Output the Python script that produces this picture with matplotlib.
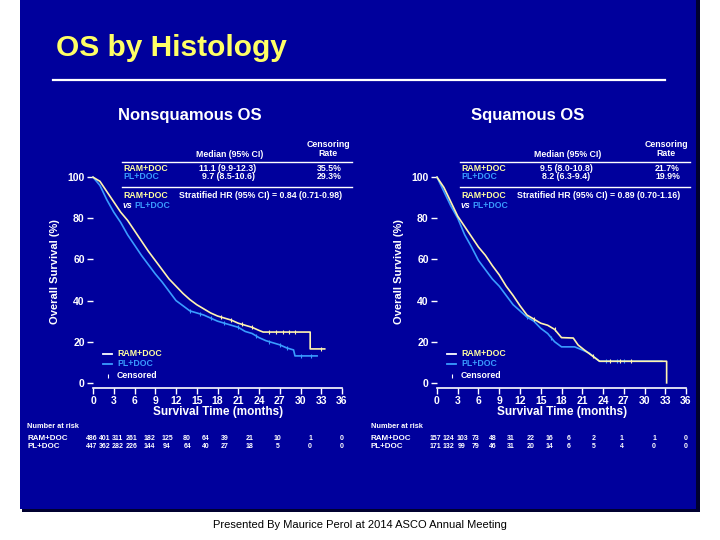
from matplotlib import pyplot as plt
from matplotlib.patches import Rectangle
from matplotlib.lines import Line2D
from matplotlib import transforms
import numpy as np

plt.rcParams['font.family'] = ['Liberation Sans', 'DejaVu Sans']

W, H = 720, 540
SLIDE = '#00009c'
YELLOW = '#ffff66'
PALE = '#ffffa0'
CREAM = '#fff4b0'
BLUE = '#3a9cff'

# ---- data ----
months = [0, 3, 6, 9, 12, 15, 18, 21, 24, 27, 30, 33, 36]

# Nonsquamous
ns_ram_t = [0, 1, 2, 3, 4, 5, 6, 7, 8, 9, 10, 11, 12, 13, 14, 15, 16, 17, 18,
            19, 20, 21, 22, 23, 24, 24.6, 31.4, 31.4, 33.5]
ns_ram_s = [100, 98, 93, 88, 83, 79, 74, 69, 64, 59.5, 55, 50.5, 47, 43.5, 40.5,
            38, 36, 34, 32.5, 31.5, 30.5, 29, 28, 27, 25.5, 24.7, 24.7, 16.5, 16.5]
ns_pl_t = [0, 1, 2, 3, 4, 5, 6, 7, 8, 9, 10, 11, 12, 13, 14, 15, 16, 17, 18,
           19, 20, 21, 22, 23, 24, 25, 26, 27, 28, 29, 29.2, 32.4]
ns_pl_s = [100, 96, 89, 83, 78, 72, 67, 62, 57.5, 53, 49, 44.5, 40, 37.5, 35,
           34, 33, 31.5, 30, 29, 28, 27, 25, 24, 22, 20.5, 19.5, 18.5, 17, 16,
           13.1, 13.1]
ns_ram_cens = [18.5, 20, 21.5, 23, 25.5, 26.5, 27.5, 28.3, 29.2, 33]
ns_pl_cens = [14, 15.5, 17, 19, 21, 23.5, 25.5, 27, 28, 30, 31.5]
ns_risk_ram = [486, 401, 311, 261, 182, 125, 80, 64, 39, 21, 10, 1, 0]
ns_risk_pl = [447, 362, 282, 226, 144, 94, 64, 40, 27, 18, 5, 0, 0]
ns_median = ['11.1 (9.9-12.3)', '9.7 (8.5-10.6)']
ns_cens_rate = ['35.5%', '29.3%']
ns_hr = 'Stratified HR (95% CI) = 0.84 (0.71-0.98)'

# Squamous
sq_ram_t = [0, 1, 2, 3, 4, 5, 6, 7, 8, 9, 10, 11, 12, 13, 14, 15, 16, 17, 18,
            19.7, 20.4, 21.3, 22.5, 23.5, 33.2, 33.2]
sq_ram_s = [100, 95, 88, 81, 76, 71, 66, 62, 57, 52.5, 47, 42.5, 37.5, 33, 31,
            29, 28, 26, 22, 21.8, 18.4, 16, 13, 10.5, 10.5, 0]
sq_pl_t = [0, 1, 2, 3, 4, 5, 6, 7, 8, 9, 10, 11, 12, 13, 14, 15, 16, 17, 18,
           19.9, 21, 22, 23.5, 32.5]
sq_pl_s = [100, 93, 86, 80, 72, 66, 59.5, 55, 50.5, 47, 42.5, 38, 35, 32, 30,
           26.5, 24, 20, 17.5, 17.5, 16, 14.5, 10.5, 10.5]
sq_ram_cens = [14, 17, 22.5, 25, 26.5, 28]
sq_pl_cens = [13, 16.5, 24.5, 26, 27]
sq_risk_ram = [157, 124, 103, 73, 48, 31, 22, 16, 6, 2, 1, 1, 0]
sq_risk_pl = [171, 132, 99, 79, 46, 31, 20, 14, 6, 5, 4, 0, 0]
sq_median = ['9.5 (8.0-10.8)', '8.2 (6.3-9.4)']
sq_cens_rate = ['21.7%', '19.9%']
sq_hr = 'Stratified HR (95% CI) = 0.89 (0.70-1.16)'

# number-at-risk columns sit a little off the ticks on the slide
risk_cols = [-0.2, 1.7, 3.6, 5.6, 8.1, 10.7, 13.6, 16.3, 19.1, 22.6, 26.7, 31.4, 36.0]


def fx(px):
  return px / W


def fy(py):
  return 1 - py / H


fig = plt.figure(figsize=(W / 100, H / 100), dpi=100)
fig.patch.set_facecolor('white')

# slide background with a dark edge on right/bottom
fig.add_artist(Rectangle((fx(22), fy(512)), fx(678), 512 / H, transform=fig.transFigure,
                         facecolor='#000030', edgecolor='none', zorder=0))
fig.add_artist(Rectangle((fx(20), fy(509)), fx(676), 509 / H, transform=fig.transFigure,
                         facecolor=SLIDE, edgecolor='none', zorder=0))

fig.text(fx(56), fy(48), 'OS by Histology', color=YELLOW, fontsize=21.5,
         fontweight='bold', ha='left', va='center')
fig.add_artist(Line2D([fx(53), fx(665)], [fy(80), fy(80)], transform=fig.transFigure,
                      color='white', lw=1.6))
fig.text(fx(360), fy(525), 'Presented By Maurice Perol at 2014 ASCO Annual Meeting',
         color='black', fontsize=8, ha='center', va='center')


def panel(x0, title, title_cx, ram, pl, ram_c, pl_c, risk_ram, risk_pl,
          median, cens_rate, hr, tab_left):
  ax = fig.add_axes([fx(x0), fy(388), 249 / W, (388 - 171) / H])
  ax.set_facecolor('none')
  ax.set_xlim(0, 36)
  ax.set_ylim(-2.5, 103)

  for t, s, c, cens in ((pl[0], pl[1], BLUE, pl_c), (ram[0], ram[1], CREAM, ram_c)):
    ax.plot(t, s, color=c, lw=1.2, clip_on=False)
    cy = np.interp(cens, t, s)
    ax.plot(cens, cy, ls='none', marker='|', ms=3.5, mew=0.8, color=c, clip_on=False)

  for side in ('top', 'right', 'left'):
    ax.spines[side].set_visible(False)
  ax.spines['bottom'].set_color('white')
  ax.spines['bottom'].set_linewidth(1.2)
  ax.set_xticks(months)
  ax.set_yticks([0, 20, 40, 60, 80, 100])
  ax.tick_params(colors='white', labelsize=7.5, length=4, width=1, pad=2)
  for lab in ax.get_xticklabels() + ax.get_yticklabels():
    lab.set_fontweight('bold')

  fig.text(fx(title_cx), fy(115), title, color='white', fontsize=12,
           fontweight='bold', ha='center', va='center')
  fig.text(fx(x0 - 38), fy(272), 'Overall Survival (%)', color='white', fontsize=8,
           fontweight='bold', rotation=90, ha='center', va='center')
  fig.text(fx(x0 + 125), fy(412), 'Survival Time (months)', color='white',
           fontsize=8.5, fontweight='bold', ha='center', va='center')

  # info table
  tl = tab_left
  fig.text(fx(tl + 108), fy(155), 'Median (95% CI)', color='white', fontsize=6.3,
           fontweight='bold', ha='center', va='center')
  fig.text(fx(tl + 206), fy(149), 'Censoring\nRate', color='white', fontsize=6.3,
           fontweight='bold', ha='center', va='center', linespacing=0.9)
  for ly in (162, 187):
    fig.add_artist(Line2D([fx(tl), fx(tl + 230)], [fy(ly), fy(ly)],
                          transform=fig.transFigure, color='white', lw=1))
  for row, (name, col) in enumerate((('RAM+DOC', PALE), ('PL+DOC', BLUE))):
    yy = fy(169 + 7.5 * row)
    fig.text(fx(tl + 1), yy, name, color=col, fontsize=6.3, fontweight='bold',
             ha='left', va='center')
    fig.text(fx(tl + 106), yy, median[row], color='white', fontsize=6.3,
             fontweight='bold', ha='center', va='center')
    fig.text(fx(tl + 220), yy, cens_rate[row], color='white', fontsize=6.3,
             fontweight='bold', ha='right', va='center')
  fig.text(fx(tl + 1), fy(195), 'RAM+DOC', color=PALE, fontsize=6.3,
           fontweight='bold', ha='left', va='center')
  fig.text(fx(tl + 1), fy(205), 'vs', color='white', fontsize=6.3,
           fontweight='bold', style='italic', ha='left', va='center')
  fig.text(fx(tl + 12), fy(205), 'PL+DOC', color=BLUE, fontsize=6.3,
           fontweight='bold', ha='left', va='center')
  fig.text(fx(tl + 220), fy(195), hr, color='white', fontsize=6.3,
           fontweight='bold', ha='right', va='center')

  # legend
  lx = x0 + 10
  for ly, name, col, lc in ((354, 'RAM+DOC', PALE, 'white'), (364, 'PL+DOC', BLUE, BLUE)):
    fig.add_artist(Line2D([fx(lx), fx(lx + 9)], [fy(ly), fy(ly)],
                          transform=fig.transFigure, color=lc, lw=1.3))
    fig.text(fx(lx + 14), fy(ly), name, color=col, fontsize=6.3,
             fontweight='bold', ha='left', va='center')
  fig.add_artist(Line2D([fx(lx + 5)], [fy(376)], transform=fig.transFigure,
                        ls='none', marker='|', ms=3.5, mew=0.8, color='white'))
  fig.text(fx(lx + 14), fy(376), 'Censored', color='white', fontsize=6.3,
           fontweight='bold', ha='left', va='center')

  # number at risk
  rl = x0 - 66
  fig.text(fx(rl), fy(426), 'Number at risk', color='white', fontsize=5.3,
           fontweight='bold', ha='left', va='center')
  tr = transforms.blended_transform_factory(ax.transData, fig.transFigure)
  for ry, name, vals in ((438, 'RAM+DOC', risk_ram), (447, 'PL+DOC', risk_pl)):
    fig.text(fx(rl), fy(ry), name, color='white', fontsize=5.8,
             fontweight='bold', ha='left', va='center')
    for xc, v in zip(risk_cols, vals):
      ax.text(xc, fy(ry), str(v), transform=tr, color='white', fontsize=5,
              fontweight='bold', ha='center', va='center', clip_on=False)
  return ax


ax1 = panel(93, 'Nonsquamous OS', 190, (ns_ram_t, ns_ram_s), (ns_pl_t, ns_pl_s),
            ns_ram_cens, ns_pl_cens, ns_risk_ram, ns_risk_pl,
            ns_median, ns_cens_rate, ns_hr, 122)
ax2 = panel(437, 'Squamous OS', 528, (sq_ram_t, sq_ram_s), (sq_pl_t, sq_pl_s),
            sq_ram_cens, sq_pl_cens, sq_risk_ram, sq_risk_pl,
            sq_median, sq_cens_rate, sq_hr, 460)

fig.savefig('out.png', dpi=100, facecolor=fig.get_facecolor())
